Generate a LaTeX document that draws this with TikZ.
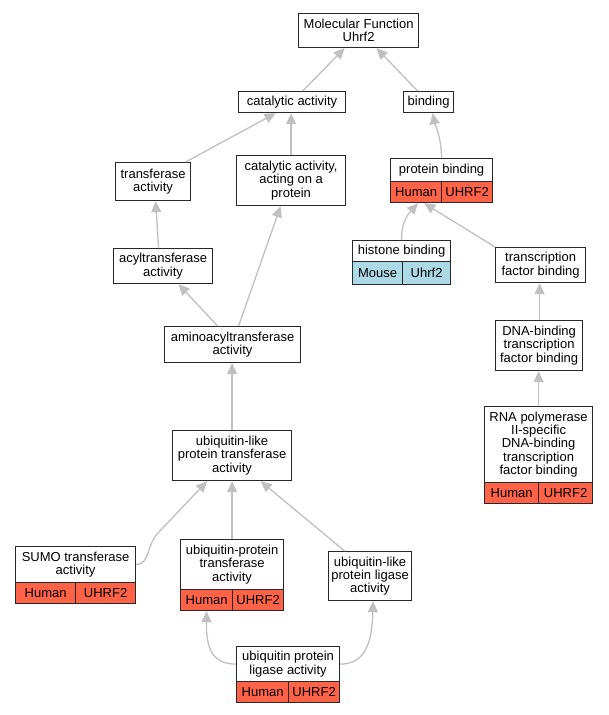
\documentclass[tikz,border=0pt]{standalone}
\usepackage{fontspec}
\setmainfont{Liberation Sans}
\usetikzlibrary{arrows.meta}
\definecolor{tomatored}{RGB}{255,99,71}
\definecolor{lblue}{RGB}{173,216,230}
\definecolor{egrey}{RGB}{192,192,192}
\definecolor{bord}{RGB}{40,40,40}
\newcommand{\fs}{\fontsize{13pt}{13.3pt}\selectfont}
\tikzset{
  box/.style={draw=bord, line width=1.2pt, fill=white, inner sep=0pt, align=center, font=\fs, anchor=north west},
  hum/.style={box, fill=tomatored},
  mou/.style={box, fill=lblue},
  edge/.style={draw=egrey, line width=1.3pt, -{Triangle[length=11pt,width=10pt]}}
}
\begin{document}
\begin{tikzpicture}[x=1pt,y=-1pt]
\useasboundingbox[fill=white] (0,0) rectangle (608,715);
% plain boxes
\node[box, minimum width=120pt, minimum height=34pt] (mf) at (298,13) {Molecular Function\\Uhrf2};
\node[box, minimum width=107pt, minimum height=21pt] (cat) at (238,91) {catalytic activity};
\node[box, minimum width=50pt, minimum height=21pt] (bind) at (403,91) {binding};
\node[box, minimum width=75pt, minimum height=38pt] (tr) at (115,162) {transferase\\activity};
\node[box, minimum width=109pt, minimum height=50pt] (catact) at (236,155) {catalytic activity,\\acting on a\\protein};
\node[box, minimum width=90pt, minimum height=35pt] (tf) at (495,247) {transcription\\factor binding};
\node[box, minimum width=99pt, minimum height=35pt] (acyl) at (113,248) {acyltransferase\\activity};
\node[box, minimum width=136pt, minimum height=36pt] (amino) at (164,326) {aminoacyltransferase\\activity};
\node[box, minimum width=87pt, minimum height=50pt] (dna) at (495,320) {DNA-binding\\transcription\\factor binding};
\node[box, minimum width=119pt, minimum height=50pt] (ubl) at (172,430) {ubiquitin-like\\protein transferase\\activity};
\node[box, minimum width=83pt, minimum height=49pt] (ubll) at (328,551) {ubiquitin-like\\protein ligase\\activity};
% split boxes
\node[box, minimum width=102pt, minimum height=23pt] (pb) at (390,158) {protein binding};
\node[hum, minimum width=51pt, minimum height=21pt] (pbh) at (390,181) {Human};
\node[hum, minimum width=51pt, minimum height=21pt] (pbg) at (441,181) {UHRF2};
\node[box, minimum width=98pt, minimum height=21pt] (hist) at (352,240) {histone binding};
\node[mou, minimum width=50pt, minimum height=23pt] (histm) at (352,261) {Mouse};
\node[mou, minimum width=48pt, minimum height=23pt] (histg) at (402,261) {Uhrf2};
\node[box, minimum width=108pt, minimum height=76pt] (rna) at (484,406) {RNA polymerase\\II-specific\\DNA-binding\\transcription\\factor binding};
\node[hum, minimum width=54pt, minimum height=21pt] (rnah) at (484,482) {Human};
\node[hum, minimum width=54pt, minimum height=21pt] (rnag) at (538,482) {UHRF2};
\node[box, minimum width=120pt, minimum height=36pt] (sumo) at (15,546) {SUMO transferase\\activity};
\node[hum, minimum width=60pt, minimum height=21pt] (sumoh) at (15,582) {Human};
\node[hum, minimum width=60pt, minimum height=21pt] (sumog) at (75,582) {UHRF2};
\node[box, minimum width=103pt, minimum height=50pt] (ubpt) at (180,539) {ubiquitin-protein\\transferase\\activity};
\node[hum, minimum width=52pt, minimum height=21pt] (ubpth) at (180,589) {Human};
\node[hum, minimum width=51pt, minimum height=21pt] (ubptg) at (232,589) {UHRF2};
\node[box, minimum width=103pt, minimum height=35pt] (upl) at (236,646) {ubiquitin protein\\ligase activity};
\node[hum, minimum width=52pt, minimum height=21pt] (uplh) at (236,681) {Human};
\node[hum, minimum width=51pt, minimum height=21pt] (uplg) at (288,681) {UHRF2};
% edges
\draw[edge] ([xshift=10.5pt]cat.north) -- ([xshift=-14pt]mf.south);
\draw[edge] ([xshift=-11pt]bind.north) -- ([xshift=18pt]mf.south);
\draw[edge] ([xshift=32.5pt]tr.north) -- ([xshift=-16.5pt]cat.south);
\draw[edge] (catact.north) -- (catact.north |- cat.south);
\draw[edge] ([xshift=-4.5pt]acyl.north) -- ([xshift=2.5pt]tr.south);
\draw[edge] ([xshift=-15pt]amino.north) -- ([xshift=15.5pt]acyl.south);
\draw[edge] ([xshift=6pt]amino.north) -- ([xshift=-10.5pt]catact.south);
\draw[edge] (pb.north) .. controls (441,135) and (435,125) .. ([xshift=4pt]bind.south);
\draw[edge] (hist.north) .. controls (401,225) and (407,215) .. ([xshift=2pt]pbh.south);
\draw[edge] (tf.north west) -- ([xshift=8pt]pbh.south);
\draw[edge] ([xshift=0.5pt]dna.north) -- ([xshift=0.5pt]dna.north |- tf.south);
\draw[edge] (rna.north) -- (rna.north |- dna.south);
\draw[edge] (ubl.north) -- (ubl.north |- amino.south);
\draw[edge] (sumo.east) .. controls (150,564) and (146,546) .. (158,533) -- ([xshift=-25pt]ubl.south);
\draw[edge] (ubpt.north) -- (ubpt.north |- ubl.south);
\draw[edge] ([xshift=-25.5pt]ubll.north) -- ([xshift=28.5pt]ubl.south);
\draw[edge] (upl.west) .. controls (212,664) and (206,648) .. (ubpth.south);
\draw[edge] (upl.east) .. controls (364,664) and (372,645) .. ([xshift=3pt]ubll.south);
\end{tikzpicture}
\end{document}
